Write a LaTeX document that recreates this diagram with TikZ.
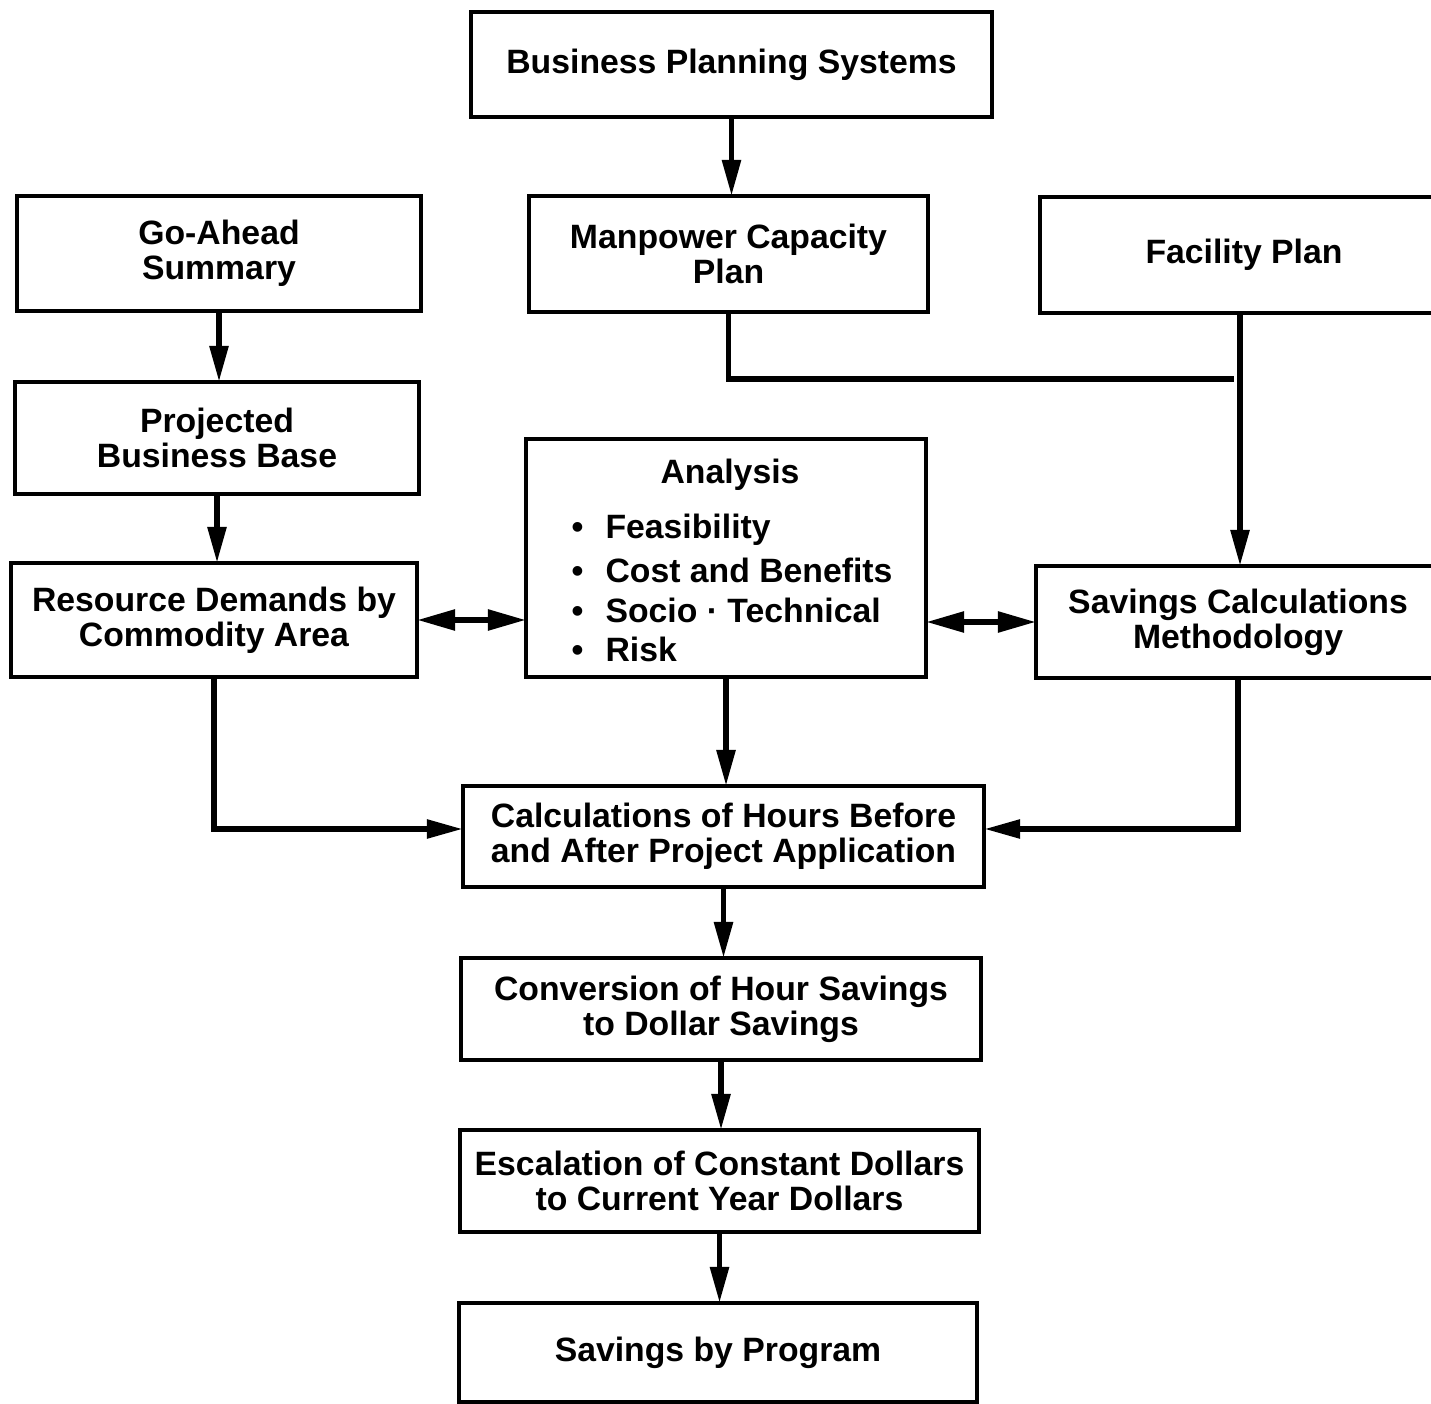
\documentclass[tikz,border=0pt]{standalone}
\usepackage{fontspec}
\setmainfont{Liberation Sans}
\usetikzlibrary{arrows.meta,calc}
\begin{document}
\begin{tikzpicture}[x=0.01cm,y=-0.01cm,
  box/.style={draw,line width=1.2pt,rectangle,inner sep=0pt,outer sep=0pt,align=center,
    font=\bfseries\fontsize{9.6}{10}\selectfont},
  lbl/.style={inner sep=0pt,font=\bfseries\fontsize{9.6}{10}\selectfont},
  link/.style={line width=1.6pt,-{Triangle[length=3.6mm,width=1.8mm]}},
  both/.style={line width=1.6pt,{Triangle[length=3.8mm,width=2mm]}-{Triangle[length=3.8mm,width=2mm]}},
  plain/.style={line width=1.6pt}]
\useasboundingbox (0,0) rectangle (1431,1404);
\clip (0,0) rectangle (1431,1404);

% boxes
\node[box,minimum width=5.21cm,minimum height=1.05cm] (bps) at (731.5,64.5) {Business Planning Systems};
\node[box,minimum width=4.04cm,minimum height=1.15cm] (goa) at (219,253.5) {Go-Ahead\\Summary};
\node[box,minimum width=3.99cm,minimum height=1.16cm] (mcp) at (728.5,254) {Manpower Capacity\\Plan};
\node[box,minimum width=4.08cm,minimum height=1.16cm] (fac) at (1244,255) {Facility Plan};
\node[box,minimum width=4.04cm,minimum height=1.12cm] (pbb) at (217,438) {Projected\\Business Base};
\node[box,minimum width=4.00cm,minimum height=2.38cm] (ana) at (726,558) {};
\node[box,minimum width=4.06cm,minimum height=1.14cm] (rdc) at (214,620) {Resource Demands by\\Commodity Area};
\node[box,minimum width=4.04cm,minimum height=1.12cm] (scm) at (1238,622) {Savings Calculations\\Methodology};
\node[box,minimum width=5.21cm,minimum height=1.01cm] (calc) at (723.5,836.5) {Calculations of Hours Before\\and After Project Application};
\node[box,minimum width=5.20cm,minimum height=1.02cm] (conv) at (721,1009) {Conversion of Hour Savings\\to Dollar Savings};
\node[box,minimum width=5.19cm,minimum height=1.02cm] (esc) at (719.5,1181) {Escalation of Constant Dollars\\to Current Year Dollars};
\node[box,minimum width=5.18cm,minimum height=0.99cm] (sbp) at (718,1352.5) {Savings by Program};

% contents of the analysis box
\node[lbl] (anat) at (730,475) {Analysis};
\node[lbl,anchor=west] (b1) at (571,530) {\textbullet\hspace{2.2mm}Feasibility};
\node[lbl,anchor=west] (b2) at (571,570) {\textbullet\hspace{2.2mm}Cost and Benefits};
\node[lbl,anchor=west] (b3) at (571,610) {\textbullet\hspace{2.2mm}Socio · Technical};
\node[lbl,anchor=west] (b4) at (571,649) {\textbullet\hspace{2.2mm}Risk};

% connectors
\draw[link] (bps.south) -- (bps.south |- mcp.north);
\draw[link] (goa.south) -- (goa.south |- pbb.north);
\draw[link] (pbb.south) -- (pbb.south |- rdc.north);

\coordinate (mj) at (1234,379);
\draw[plain] (mcp.south) |- (mj);
\draw[link] (1240,0 |- fac.south) -- (1240,0 |- scm.north);

\draw[both] (rdc.east) -- (rdc.east -| ana.west);
\draw[both] (scm.west -| ana.east) -- (scm.west);

\draw[link] (ana.south) -- (ana.south |- calc.north);
\coordinate (cl) at ($(calc.west)+(0,-7.5)$);
\coordinate (cr) at ($(calc.east)+(0,-7.5)$);
\draw[link] (rdc.south) |- (cl);
\draw[link] (scm.south) |- (cr);

\draw[link] (calc.south) -- (calc.south |- conv.north);
\draw[link] (conv.south) -- (conv.south |- esc.north);
\draw[link] (esc.south) -- (esc.south |- sbp.north);
\end{tikzpicture}
\end{document}
